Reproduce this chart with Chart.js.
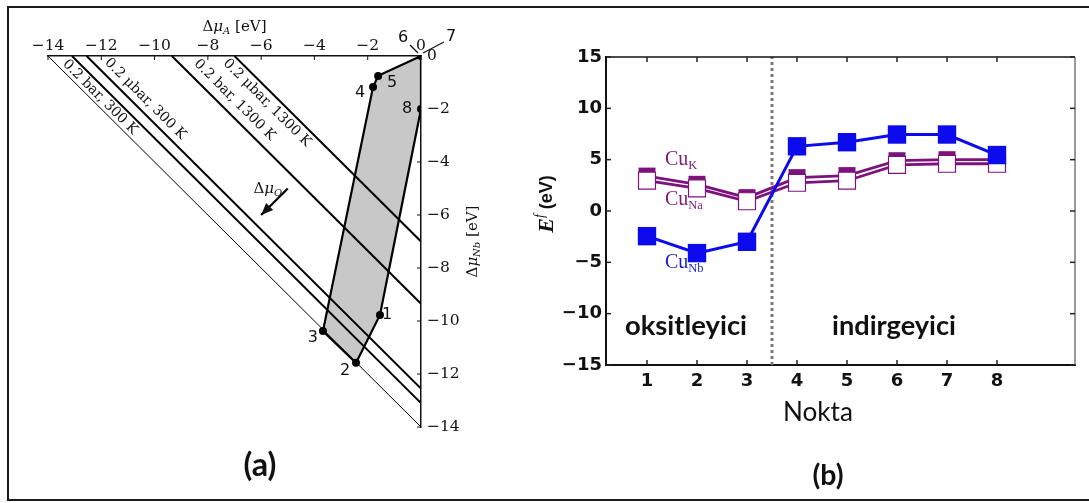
<!DOCTYPE html>
<html>
<head>
<meta charset="utf-8">
<script src="https://cdn.jsdelivr.net/npm/chart.js@4.4.1/dist/chart.umd.min.js"></script>
<style>
  html, body { margin: 0; padding: 0; background: #fff; width: 1089px; height: 503px; overflow: hidden; }
  #frame { position: absolute; left: 7px; top: 6px; width: 1100px; height: 495px; border: 2px solid #1a1a1a; box-sizing: border-box; }
  #chartA { position: absolute; left: 0; top: 0; }
  #chartB { position: absolute; left: 490px; top: 0; }
</style>
</head>
<body>
<div id="frame"></div>
<canvas id="chartA" width="490" height="503"></canvas>
<canvas id="chartB" width="599" height="503"></canvas>
<script>
// ---- panel (a): chemical potential diagram ----
const muAticks = [-14, -12, -10, -8, -6, -4, -2, 0];
const muNbticks = [0, -2, -4, -6, -8, -10, -12, -14];
// oxygen limit lines: ΔμA + ΔμNb = level
const limitLevels = [-14, -13.1, -12.55, -9.35, -7.0];
const limitNames = ['', '0.2 bar, 300 K', '0.2 \u03bcbar, 300 K', '0.2 bar, 1300 K', '0.2 \u03bcbar, 1300 K'];
// stability region corners (ΔμA, ΔμNb)
const vertexId = ['0', '5', '4', '3', '2', '1', '8'];
const vertexA = [0, -1.61, -1.80, -3.68, -2.44, -1.54, 0];
const vertexNb = [0, -0.75, -1.17, -10.38, -11.58, -9.77, -2.0];
const arrowFrom = [-5.0, -5.0];
const arrowTo = [-6.0, -6.0];

// ---- panel (b): formation energies ----
const points = [1, 2, 3, 4, 5, 6, 7, 8];
const cuK = [3.4, 2.6, 1.3, 3.25, 3.45, 4.9, 5.0, 5.0];
const cuNa = [2.95, 2.2, 0.95, 2.75, 2.95, 4.5, 4.6, 4.6];
const cuNb = [-2.45, -4.1, -3.0, 6.3, 6.7, 7.45, 7.45, 5.45];
const eTicks = [-15, -10, -5, 0, 5, 10, 15];
const divider = 3.5;

const toXY = (xs, ys) => xs.map((x, i) => ({ x: x, y: ys[i] }));
const minus = v => (v < 0 ? '\u2212' + Math.abs(v) : String(v));

// draw a run of text pieces: [text, font, dy]
function rich(ctx, parts, x, y, align) {
  let w = 0;
  parts.forEach(p => { ctx.font = p[1]; w += ctx.measureText(p[0]).width; });
  let cx = align === 'left' ? x : x - w / 2;
  ctx.textAlign = 'left';
  ctx.textBaseline = 'middle';
  parts.forEach(p => {
    ctx.font = p[1];
    ctx.fillText(p[0], cx, y + (p[2] || 0));
    cx += ctx.measureText(p[0]).width;
  });
}

// text sized to a given width
function fitText(ctx, text, family, weight, width, x, y) {
  ctx.font = weight + ' 100px ' + family;
  const size = 100 * width / ctx.measureText(text).width;
  ctx.font = weight + ' ' + size.toFixed(1) + 'px ' + family;
  ctx.textAlign = 'center';
  ctx.textBaseline = 'middle';
  ctx.fillText(text, x, y);
}

const SERIF = '15px "DejaVu Serif"';
const SERIF_IT = 'italic 15px "DejaVu Serif"';
const SUB_IT = 'italic 10px "DejaVu Serif"';

// label spots for the oxygen lines (ΔμA, ΔμNb of text centre)
const lineLabelPos = [null, [-12.05, -1.55], [-10.35, -1.62], [-7.0, -1.66], [-5.78, -1.77]];
// vertex label offsets in pixels
const vertexLabelOff = { '5': [14, 7], '4': [-13, 6], '3': [-10, 7], '2': [-11, 8], '1': [7, 0], '8': [-14, 0] };

const panelA = {
  id: 'panelA',
  afterDraw(chart) {
    const { ctx, scales: { x, y } } = chart;
    const px = v => x.getPixelForValue(v);
    const py = v => y.getPixelForValue(v);
    ctx.save();
    ctx.fillStyle = '#111';
    ctx.strokeStyle = '#111';

    // inward tick marks
    ctx.lineWidth = 1;
    muAticks.forEach(v => {
      ctx.beginPath(); ctx.moveTo(px(v), py(0)); ctx.lineTo(px(v), py(0) + 4); ctx.stroke();
    });
    muNbticks.forEach(v => {
      ctx.beginPath(); ctx.moveTo(px(0), py(v)); ctx.lineTo(px(0) - 4, py(v)); ctx.stroke();
    });

    // axis titles
    rich(ctx, [['\u0394', SERIF], ['\u03bc', SERIF_IT], ['A', SUB_IT, 4], [' [eV]', SERIF]], (x.left + x.right) / 2, 27);
    ctx.save();
    ctx.translate(473, (y.top + y.bottom) / 2);
    ctx.rotate(-Math.PI / 2);
    rich(ctx, [['\u0394', SERIF], ['\u03bc', SERIF_IT], ['Nb', SUB_IT, 4], [' [eV]', SERIF]], 0, 0);
    ctx.restore();

    // names of the oxygen lines, along the lines
    ctx.font = '14px "DejaVu Serif"';
    limitNames.forEach((t, i) => {
      if (!t) return;
      const p = lineLabelPos[i];
      ctx.save();
      ctx.translate(px(p[0]), py(p[1]));
      ctx.rotate(Math.PI / 4);
      ctx.textAlign = 'center'; ctx.textBaseline = 'middle';
      ctx.fillText(t, 0, 0);
      ctx.restore();
    });

    // vertex numbers
    ctx.font = '16px "DejaVu Sans"';
    ctx.textAlign = 'center'; ctx.textBaseline = 'middle';
    vertexId.forEach((id, i) => {
      const o = vertexLabelOff[id];
      if (!o) return;
      ctx.fillText(id, px(vertexA[i]) + o[0], py(vertexNb[i]) + o[1]);
    });
    // 6 and 7 sit on corner 0 with leader lines
    const ox = px(0), oy = py(0);
    ctx.fillText('6', ox - 18, oy - 18);
    ctx.fillText('7', ox + 30, oy - 19);
    ctx.lineWidth = 1.2;
    ctx.beginPath(); ctx.moveTo(ox - 11, oy - 11); ctx.lineTo(ox - 3, oy - 3); ctx.stroke();
    ctx.beginPath(); ctx.moveTo(ox + 2, oy - 3); ctx.lineTo(ox + 23, oy - 14); ctx.stroke();

    // arrow head for ΔμO
    const fx = px(arrowFrom[0]), fy = py(arrowFrom[1]);
    const tx = px(arrowTo[0]), ty = py(arrowTo[1]);
    const ang = Math.atan2(ty - fy, tx - fx);
    ctx.beginPath();
    ctx.moveTo(tx, ty);
    ctx.lineTo(tx - 12 * Math.cos(ang) + 5 * Math.sin(ang), ty - 12 * Math.sin(ang) - 5 * Math.cos(ang));
    ctx.lineTo(tx - 12 * Math.cos(ang) - 5 * Math.sin(ang), ty - 12 * Math.sin(ang) + 5 * Math.cos(ang));
    ctx.closePath();
    ctx.fill();
    rich(ctx, [['\u0394', SERIF], ['\u03bc', SERIF_IT], ['O', SUB_IT, 4]], fx - 20, fy + 1);

    // panel caption
    fitText(ctx, '(a)', 'Lato', 'bold', 33, 260, 466);
    ctx.restore();
  }
};

const dsA = [];
dsA.push({
  data: toXY(vertexA.concat([vertexA[0]]), vertexNb.concat([vertexNb[0]])),
  fill: 'shape', backgroundColor: '#c8c8c8', borderColor: '#000', borderWidth: 2.2,
  borderJoinStyle: 'miter', pointRadius: 0, tension: 0, order: 5
});
limitLevels.forEach((c, i) => {
  dsA.push({
    data: [{ x: c, y: 0 }, { x: 0, y: c }],
    fill: false, borderColor: '#000', borderWidth: i === 0 ? 1 : 2, pointRadius: 0, order: 3
  });
});
dsA.push({
  data: [{ x: arrowFrom[0], y: arrowFrom[1] }, { x: arrowTo[0], y: arrowTo[1] }],
  fill: false, borderColor: '#000', borderWidth: 2.2, pointRadius: 0, order: 1
});
dsA.push({
  data: toXY(vertexA, vertexNb),
  showLine: false, pointRadius: 4, pointBackgroundColor: '#000', pointBorderWidth: 0, order: 0
});

new Chart(document.getElementById('chartA'), {
  type: 'line',
  data: { datasets: dsA },
  options: {
    responsive: false,
    animation: false,
    devicePixelRatio: 1,
    events: [],
    layout: { padding: { left: 48, top: 0, right: 0, bottom: 76 } },
    plugins: { legend: { display: false }, tooltip: { enabled: false } },
    scales: {
      x: {
        type: 'linear', position: 'top', min: -14, max: 0,
        afterBuildTicks: s => { s.ticks = muAticks.map(v => ({ value: v })); },
        afterFit: s => { s.height = 56; },
        grid: { display: false, drawTicks: false },
        border: { display: true, color: '#111', width: 1.5 },
        ticks: { callback: minus, color: '#111', padding: 1, maxRotation: 0, autoSkip: false,
                 font: { family: 'DejaVu Serif', size: 15.5 } }
      },
      y: {
        type: 'linear', position: 'right', min: -14, max: 0,
        afterBuildTicks: s => { s.ticks = muNbticks.map(v => ({ value: v })); },
        afterFit: s => { s.width = 69; },
        grid: { display: false, drawTicks: false },
        border: { display: true, color: '#111', width: 1.5 },
        ticks: { callback: minus, color: '#111', padding: 6, autoSkip: false,
                 font: { family: 'DejaVu Serif', size: 15.5 } }
      }
    }
  },
  plugins: [panelA]
});

// ---- panel (b) ----
const OFFSET_B = 490; // left edge of canvas B on the page
const PURPLE = '#7c137c';
const BLUE = '#0b0bee';
const seriesLabels = [
  { main: 'Cu', sub: 'K', x: 1.36, y: 5.0, color: '#7a1a7a' },
  { main: 'Cu', sub: 'Na', x: 1.36, y: 1.07, color: '#7a1a7a' },
  { main: 'Cu', sub: 'Nb', x: 1.36, y: -5.06, color: '#1c1cc8' }
];

const panelB = {
  id: 'panelB',
  afterDraw(chart) {
    const { ctx, chartArea: a, scales: { x, y } } = chart;
    ctx.save();
    // top and right frame
    ctx.lineWidth = 1.5;
    ctx.strokeStyle = '#111';
    ctx.beginPath(); ctx.moveTo(a.left, a.top); ctx.lineTo(a.right, a.top); ctx.stroke();
    ctx.strokeStyle = '#777';
    ctx.beginPath(); ctx.moveTo(a.right, a.top); ctx.lineTo(a.right, a.bottom); ctx.stroke();
    // inward ticks
    ctx.strokeStyle = '#222';
    ctx.lineWidth = 1.5;
    points.forEach(v => {
      const p = x.getPixelForValue(v);
      ctx.beginPath(); ctx.moveTo(p, a.bottom); ctx.lineTo(p, a.bottom - 5); ctx.stroke();
      ctx.beginPath(); ctx.moveTo(p, a.top); ctx.lineTo(p, a.top + 5); ctx.stroke();
    });
    eTicks.forEach(v => {
      const p = y.getPixelForValue(v);
      ctx.beginPath(); ctx.moveTo(a.left, p); ctx.lineTo(a.left + 5, p); ctx.stroke();
      ctx.beginPath(); ctx.moveTo(a.right, p); ctx.lineTo(a.right - 5, p); ctx.stroke();
    });

    // series names
    seriesLabels.forEach(l => {
      ctx.fillStyle = l.color;
      rich(ctx, [[l.main, '20px "Liberation Serif"'], [l.sub, '12.5px "Liberation Serif"', 6]],
           x.getPixelForValue(l.x), y.getPixelForValue(l.y), 'left');
    });

    // region names
    ctx.fillStyle = '#111';
    fitText(ctx, 'oksitleyici', 'Lato', 'bold', 122, 686 - OFFSET_B, 326);
    fitText(ctx, 'indirgeyici', 'Lato', 'bold', 124, 894 - OFFSET_B, 326);

    // axis titles
    ctx.save();
    ctx.translate(547 - OFFSET_B, 204);
    ctx.rotate(-Math.PI / 2);
    rich(ctx, [['E', 'bold italic 22px "Liberation Serif"'], ['f', 'italic 14px "Liberation Serif"', -7],
               [' (eV)', 'bold 18px "Liberation Sans"']], 0, 0);
    ctx.restore();
    fitText(ctx, 'Nokta', 'Lato', 'normal', 70, 818 - OFFSET_B, 413);
    fitText(ctx, '(b)', 'Lato', 'bold', 31, 828 - OFFSET_B, 476);
    ctx.restore();
  }
};

new Chart(document.getElementById('chartB'), {
  type: 'line',
  data: {
    datasets: [
      { data: toXY(points, cuNb), borderColor: BLUE, borderWidth: 3, pointStyle: 'rect', pointRadius: 13,
        pointBackgroundColor: BLUE, pointBorderWidth: 0, fill: false, order: 0 },
      { data: toXY(points, cuNa), borderColor: PURPLE, borderWidth: 2.8, pointStyle: 'rect', pointRadius: 12,
        pointBackgroundColor: '#fff', pointBorderColor: PURPLE, pointBorderWidth: 1.2, fill: false, order: 1 },
      { data: toXY(points, cuK), borderColor: PURPLE, borderWidth: 2.8, pointStyle: 'rect', pointRadius: 12,
        pointBackgroundColor: PURPLE, pointBorderWidth: 0, fill: false, order: 2 },
      { data: [{ x: divider, y: -15 }, { x: divider, y: 15 }], borderColor: '#7a7a7a', borderWidth: 3,
        borderDash: [3, 3], pointRadius: 0, fill: false, order: 3 }
    ]
  },
  options: {
    responsive: false,
    animation: false,
    devicePixelRatio: 1,
    events: [],
    layout: { padding: { left: 0, top: 57, right: 14, bottom: 0 } },
    plugins: { legend: { display: false }, tooltip: { enabled: false } },
    scales: {
      x: {
        type: 'linear', min: 0.18, max: 9.56,
        afterBuildTicks: s => { s.ticks = points.map(v => ({ value: v })); },
        afterFit: s => { s.height = 138; },
        grid: { display: false, drawTicks: false },
        border: { display: true, color: '#111', width: 2 },
        ticks: { color: '#111', padding: 6, maxRotation: 0, autoSkip: false,
                 font: { family: 'DejaVu Sans', size: 18, weight: 'bold' } }
      },
      y: {
        type: 'linear', min: -15, max: 15,
        afterBuildTicks: s => { s.ticks = eTicks.map(v => ({ value: v })); },
        afterFit: s => { s.width = 116; },
        grid: { display: false, drawTicks: false },
        border: { display: true, color: '#111', width: 2 },
        ticks: { callback: minus, color: '#111', padding: 4, autoSkip: false,
                 font: { family: 'DejaVu Sans', size: 18, weight: 'bold' } }
      }
    }
  },
  plugins: [panelB]
});
</script>
</body>
</html>
